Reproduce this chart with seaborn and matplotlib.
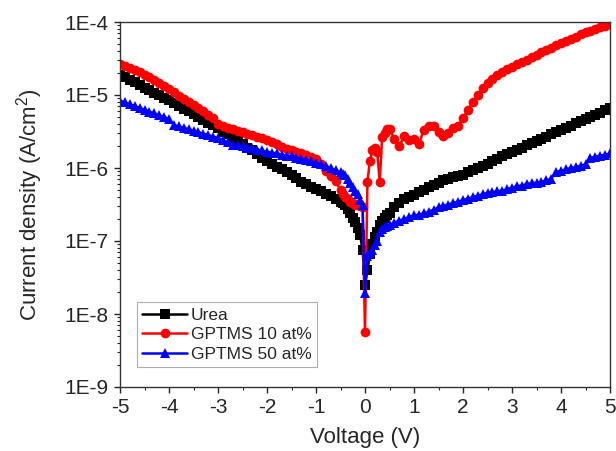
import numpy as np
import matplotlib
matplotlib.use("Agg")
import matplotlib.pyplot as plt
import matplotlib.ticker as ticker
import seaborn as sns

# voltage sweep: 0.1 V steps, 0.05 V steps around 0 V
voltage = np.concatenate([np.arange(-50, -5) / 10,
                          np.arange(-10, 10) / 20,
                          np.arange(5, 51) / 10])

# log10 of current density (A/cm2)
urea_log = [
    -4.72, -4.75, -4.79, -4.82, -4.86, -4.90, -4.93, -4.97, -5.00, -5.04,
    -5.07, -5.11, -5.15, -5.19, -5.22, -5.26, -5.30, -5.34, -5.38, -5.41,
    -5.45, -5.50, -5.54, -5.59, -5.63, -5.67, -5.72, -5.76, -5.81, -5.86,
    -5.90, -5.94, -5.98, -6.02, -6.06, -6.10, -6.14, -6.19, -6.22, -6.26,
    -6.29, -6.32, -6.35, -6.39, -6.42,
    -6.46, -6.48, -6.51, -6.56, -6.62, -6.68, -6.74, -6.82, -6.92, -7.12,
    -7.60, -7.40, -7.18, -7.04, -6.95, -6.87, -6.78, -6.73, -6.68, -6.64,
    -6.61, -6.54, -6.48, -6.43, -6.40, -6.37, -6.33, -6.30, -6.26, -6.23,
    -6.20, -6.17, -6.15, -6.13, -6.11, -6.09, -6.06, -6.03, -6.00, -5.97,
    -5.94, -5.91, -5.88, -5.84, -5.81, -5.78, -5.75, -5.72, -5.69, -5.66,
    -5.63, -5.60, -5.57, -5.54, -5.51, -5.48, -5.45, -5.42, -5.39, -5.36,
    -5.33, -5.30, -5.27, -5.24, -5.21, -5.18,
]
gptms10_log = [
    -4.57, -4.60, -4.63, -4.66, -4.69, -4.72, -4.76, -4.80, -4.84, -4.88,
    -4.92, -4.96, -5.01, -5.06, -5.10, -5.14, -5.18, -5.22, -5.27, -5.32,
    -5.40, -5.43, -5.45, -5.47, -5.49, -5.51, -5.53, -5.55, -5.57, -5.59,
    -5.61, -5.64, -5.67, -5.71, -5.74, -5.76, -5.78, -5.80, -5.82, -5.85,
    -5.88, -5.94, -6.04, -6.11, -6.18,
    -6.30, -6.35, -6.40, -6.43, -6.46, -6.48, -6.50, -6.51, -6.52, -6.53,
    -8.25, -6.19, -5.90, -5.76, -5.73, -5.78, -6.19, -5.58, -5.52, -5.46,
    -5.47, -5.60, -5.70, -5.56, -5.62, -5.60, -5.67, -5.48, -5.42, -5.42,
    -5.50, -5.56, -5.52, -5.45, -5.42, -5.32, -5.20, -5.10, -5.00, -4.91,
    -4.84, -4.78, -4.73, -4.69, -4.65, -4.61, -4.58, -4.55, -4.52, -4.48,
    -4.45, -4.41, -4.38, -4.35, -4.32, -4.29, -4.26, -4.23, -4.20, -4.17,
    -4.14, -4.12, -4.09, -4.07, -4.05, -4.03,
]
gptms50_log = [
    -5.08, -5.10, -5.13, -5.15, -5.18, -5.20, -5.23, -5.25, -5.28, -5.30,
    -5.33, -5.41, -5.43, -5.45, -5.47, -5.49, -5.51, -5.53, -5.55, -5.57,
    -5.59, -5.62, -5.65, -5.68, -5.69, -5.70, -5.72, -5.73, -5.75, -5.76,
    -5.78, -5.79, -5.80, -5.82, -5.83, -5.84, -5.86, -5.87, -5.89, -5.91,
    -5.93, -5.95, -5.97, -6.00, -6.03,
    -6.06, -6.08, -6.10, -6.15, -6.20, -6.26, -6.31, -6.36, -6.44, -6.50,
    -7.71, -7.20, -7.16, -7.12, -7.06, -7.00, -6.88, -6.84, -6.81, -6.79,
    -6.78, -6.75, -6.72, -6.70, -6.67, -6.65, -6.64, -6.62, -6.60, -6.57,
    -6.54, -6.52, -6.50, -6.48, -6.46, -6.44, -6.42, -6.40, -6.38, -6.36,
    -6.34, -6.33, -6.32, -6.31, -6.29, -6.27, -6.25, -6.24, -6.22, -6.21,
    -6.20, -6.19, -6.17, -6.15, -6.05, -6.04, -6.02, -6.00, -5.99, -5.97,
    -5.95, -5.86, -5.85, -5.83, -5.82, -5.80,
]

labels = ["Urea", "GPTMS 10 at%", "GPTMS 50 at%"]
colors = ["black", "red", "blue"]
markers = ["s", "o", "^"]
msizes = [6.5, 7, 7.5]

sns.set_style("ticks")
plt.rcParams["font.family"] = ["Liberation Sans", "DejaVu Sans"]
plt.rcParams["mathtext.fontset"] = "custom"
plt.rcParams["mathtext.rm"] = "Liberation Sans"
plt.rcParams["mathtext.it"] = "Liberation Sans:italic"

fig = plt.figure(figsize=(6.16, 4.51), dpi=100)
ax = fig.add_axes([120 / 616, 1 - 387 / 451, 490 / 616, 365 / 451])

for logs, lab, c, m, ms in zip([urea_log, gptms10_log, gptms50_log],
                               labels, colors, markers, msizes):
    sns.lineplot(x=voltage, y=10 ** np.array(logs), color=c, marker=m,
                 markersize=ms, markeredgewidth=0, linewidth=1.8,
                 label=lab, estimator=None, sort=False, ax=ax)

ax.set_yscale("log")
ax.set_xlim(-5, 5)
ax.set_ylim(1e-9, 1e-4)
ax.xaxis.set_major_locator(ticker.MultipleLocator(1))
ax.xaxis.set_minor_locator(ticker.MultipleLocator(0.5))
ax.yaxis.set_major_locator(ticker.LogLocator(base=10, numticks=10))
ax.yaxis.set_minor_locator(ticker.LogLocator(base=10, subs=np.arange(2, 10), numticks=10))
ax.yaxis.set_major_formatter(ticker.FuncFormatter(lambda v, p: f"1E{int(round(np.log10(v)))}"))
ax.yaxis.set_minor_formatter(ticker.NullFormatter())
ax.xaxis.set_major_formatter(ticker.FuncFormatter(lambda v, p: f"{v:g}"))

ax.tick_params(which="major", direction="out", length=4, width=1, labelsize=15, pad=4)
ax.tick_params(which="minor", direction="out", length=2.5, width=0.8)
for s in ax.spines.values():
    s.set_visible(True)
    s.set_linewidth(1)
    s.set_color("#333333")

ax.set_xlabel("Voltage (V)", fontsize=16, labelpad=7)
ax.set_ylabel("Current density (A/cm$^2$)", fontsize=16, labelpad=14)

leg = ax.legend(loc="lower left", bbox_to_anchor=(0.035, 0.055), fontsize=12.5,
                frameon=True, fancybox=False, edgecolor="#999999",
                handlelength=2.6, handletextpad=0.2, borderpad=0.3,
                labelspacing=0.25, borderaxespad=0)
leg.get_frame().set_linewidth(0.8)

fig.savefig("out.png", dpi=100)
